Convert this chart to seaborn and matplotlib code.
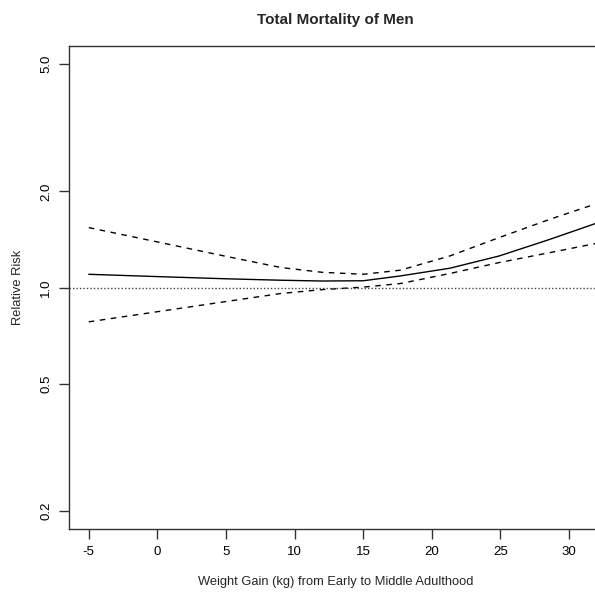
import numpy as np
import pandas as pd
import matplotlib
matplotlib.use("Agg")
import matplotlib.pyplot as plt
import seaborn as sns
from matplotlib.ticker import FixedLocator, NullLocator, FixedFormatter

# Data
weight_gain = [-5, 0, 5, 9, 12, 15, 17.7, 21.3, 24.9, 28.6, 32]
rr_estimate = [1.100, 1.082, 1.065, 1.054, 1.048, 1.050, 1.087, 1.149, 1.255, 1.415, 1.590]
rr_upper    = [1.540, 1.389, 1.252, 1.155, 1.116, 1.100, 1.133, 1.255, 1.433, 1.635, 1.830]
rr_lower    = [0.781, 0.840, 0.904, 0.958, 0.985, 1.003, 1.029, 1.106, 1.197, 1.286, 1.375]

x_ticks = [-5, 0, 5, 10, 15, 20, 25, 30]
y_ticks = [0.2, 0.5, 1.0, 2.0, 5.0]
y_tick_labels = ["0.2", "0.5", "1.0", "2.0", "5.0"]

df = pd.DataFrame({"x": weight_gain, "est": rr_estimate, "up": rr_upper, "lo": rr_lower})

sns.set_style("white")
plt.rcParams["font.family"] = ["Liberation Sans", "DejaVu Sans"]

W, H = 595, 594
fig = plt.figure(figsize=(W / 100, H / 100), dpi=100)
left, right, top, bottom = 69, 602, 46, 529
ax = fig.add_axes([left / W, 1 - bottom / H, (right - left) / W, (bottom - top) / H])

sns.lineplot(data=df, x="x", y="est", ax=ax, color="black", lw=1.0)
sns.lineplot(data=df, x="x", y="up", ax=ax, color="black", lw=1.0, linestyle=(0, (4, 4)))
sns.lineplot(data=df, x="x", y="lo", ax=ax, color="black", lw=1.0, linestyle=(0, (4, 4)))
ax.axhline(1.0, color="#444444", lw=1.0, linestyle=(0, (1, 1.5)))

ax.set_yscale("log")
ax.set_xlim(-6.44, 32.4)
ax.set_ylim(0.1755, 5.70)
ax.yaxis.set_major_locator(FixedLocator(y_ticks))
ax.yaxis.set_major_formatter(FixedFormatter(y_tick_labels))
ax.yaxis.set_minor_locator(NullLocator())
ax.set_xticks(x_ticks)
ax.set_xticklabels([str(v) for v in x_ticks])

for s in ["left", "bottom", "top", "right"]:
    ax.spines[s].set_color("#333333")
    ax.spines[s].set_linewidth(1.0)

ax.tick_params(axis="both", which="major", direction="out", length=7, width=1,
               color="#333333", labelsize=9.5, labelcolor="black", pad=5,
               left=True, bottom=True)
for lbl in ax.get_yticklabels():
    lbl.set_rotation(90)
    lbl.set_va("center")

ax.set_xlabel("Weight Gain (kg) from Early to Middle Adulthood", fontsize=9.3, labelpad=13)
ax.set_ylabel("Relative Risk", fontsize=9.3, labelpad=12)
ax.set_title("Total Mortality of Men", fontsize=11, fontweight="bold", pad=16)
ax.grid(False)

fig.savefig("out.png", dpi=100)
